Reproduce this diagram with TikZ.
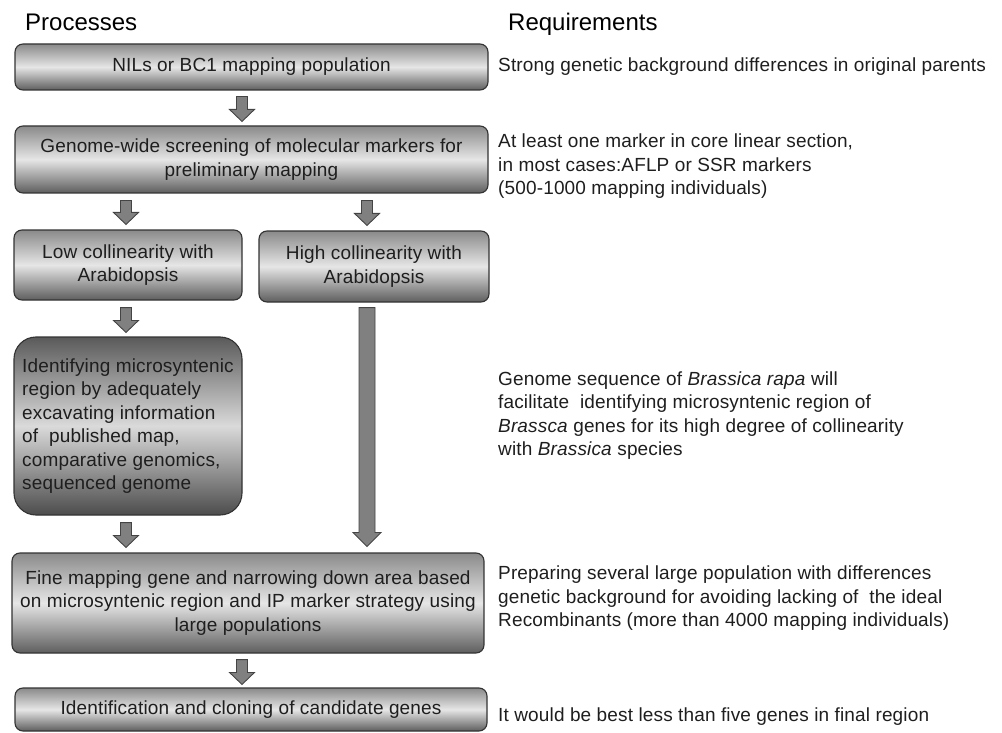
\documentclass[tikz,border=0pt]{standalone}
\usepackage{fontspec}
\setmainfont{Liberation Sans}
\usetikzlibrary{calc}
\definecolor{gtop}{HTML}{8A8A8A}
\definecolor{gmid}{HTML}{E6E6E6}
\definecolor{gbot}{HTML}{5E5E5E}
\definecolor{dtop}{HTML}{5A5A5A}
\definecolor{dmid}{HTML}{DADADA}
\definecolor{dbot}{HTML}{4C4C4C}
\definecolor{boxline}{HTML}{333333}
\definecolor{arrfill}{HTML}{808080}
\definecolor{arrline}{HTML}{444444}
\definecolor{txt}{HTML}{1E1E1E}
\tikzset{
  box/.style={draw=boxline, line width=1.1pt, rounded corners=8pt,
    top color=gtop, bottom color=gbot, middle color=gmid, text=txt,
    font=\fontsize{19}{23.5}\selectfont\addfontfeature{LetterSpace=0.8}, align=center, inner sep=0pt},
  darkbox/.style={box, rounded corners=22pt, top color=dtop, bottom color=dbot, middle color=dmid},
  req/.style={anchor=west, align=left, font=\fontsize{19}{23.5}\selectfont\addfontfeature{LetterSpace=0.8}, text=txt, inner sep=0pt},
  head/.style={anchor=base west, font=\fontsize{24}{28}\selectfont, text=black, inner sep=0pt},
  fat/.style={fill=arrfill, draw=arrline, line width=0.9pt, line join=miter},
}
% #1 start, #2 tip, #3 half shaft, #4 half head, #5 head height
\newcommand\fatarrow[5]{%
  \draw[fat] let \p1=(#1), \p2=(#2) in
    (\x1-#3,\y1) -- (\x1+#3,\y1) -- (\x1+#3,\y2+#5) -- (\x1+#4,\y2+#5)
    -- (\x1,\y2) -- (\x1-#4,\y2+#5) -- (\x1-#3,\y2+#5) -- cycle;}
\begin{document}
\begin{tikzpicture}[x=1pt,y=-1pt]
\useasboundingbox (0,0) rectangle (1002,733);

\node[head] (hp) at (25,31) {Processes};
\node[head] (hr) at (508,31) {Requirements};

\node[box, minimum width=473pt, minimum height=46pt] (b1) at (251.5,67) {NILs or BC1 mapping population};
\node[box, minimum width=473pt, minimum height=67pt] (b2) at (251.5,159.5) {Genome-wide screening of molecular markers for\\preliminary mapping};
\node[box, minimum width=228pt, minimum height=70pt] (b3) at (128,265) {Low collinearity with\\Arabidopsis};
\node[box, minimum width=230pt, minimum height=71pt] (b4) at (374,266.5) {High collinearity with\\Arabidopsis};
\node[darkbox, minimum width=228pt, minimum height=178pt, align=left] (b5) at (128,426)
  {Identifying microsyntenic\\region by adequately\\excavating information\\of\ \ published map,\\comparative genomics,\\sequenced genome};
\node[box, minimum width=472pt, minimum height=100pt] (b6) at (248,603) {Fine mapping gene and narrowing down area based\\on microsyntenic region and IP marker strategy using\\large populations};
\node[box, minimum width=472pt, minimum height=43pt] (b7) at (251,709.5) {Identification and cloning of candidate genes};

\node[req] (r1) at (498,67) {Strong genetic background differences in original parents};
\node[req] (r2) at (498,166.5) {At least one marker in core linear section,\\in most cases:AFLP or SSR markers\\(500-1000 mapping individuals)};
\node[req] (r3) at (498,415.5) {Genome sequence of \textit{Brassica rapa} will\\facilitate\ \ identifying microsyntenic region of\\\textit{Brassca} genes for its high degree of collinearity\\with \textit{Brassica} species};
\node[req] (r4) at (498,598.5) {Preparing several large population with differences\\genetic background for avoiding lacking of\ \ the ideal\\Recombinants (more than 4000 mapping individuals)};
\node[req] (r5) at (498,717) {It would be best less than five genes in final region};

\coordinate (a1s) at ($(b1.south)+(-9.5,6)$);
\coordinate (a1e) at ($(b2.north)+(-9.5,-4)$);
\coordinate (a2s) at ($(b2.south -| b3.north)+(-2,7)$);
\coordinate (a2e) at ($(b3.north)+(-2,-5)$);
\coordinate (a3s) at ($(b2.south -| b4.north)+(-7,7)$);
\coordinate (a3e) at ($(b4.north)+(-7,-5)$);
\coordinate (a4s) at ($(b3.south)+(-2,7)$);
\coordinate (a4e) at ($(b5.north)+(-2,-4)$);
\coordinate (a5s) at ($(b4.south)+(-7,5)$);
\coordinate (a5e) at ($(b6.north -| b4.south)+(-7,-6)$);
\coordinate (a6s) at ($(b5.south)+(-2,7)$);
\coordinate (a6e) at ($(b6.north -| b5.south)+(-2,-5)$);
\coordinate (a7s) at ($(b6.south)+(-6,6)$);
\coordinate (a7e) at ($(b7.north)+(-9,-3)$);

\fatarrow{a1s}{a1e}{5.5pt}{12.5pt}{12pt}
\fatarrow{a2s}{a2e}{5.5pt}{12.5pt}{12pt}
\fatarrow{a3s}{a3e}{5.5pt}{12.5pt}{12pt}
\fatarrow{a4s}{a4e}{5.5pt}{12.5pt}{12pt}
\fatarrow{a5s}{a5e}{8pt}{14pt}{14pt}
\fatarrow{a6s}{a6e}{5.5pt}{12.5pt}{12pt}
\fatarrow{a7s}{a7e}{5.5pt}{12.5pt}{12pt}
\end{tikzpicture}
\end{document}
